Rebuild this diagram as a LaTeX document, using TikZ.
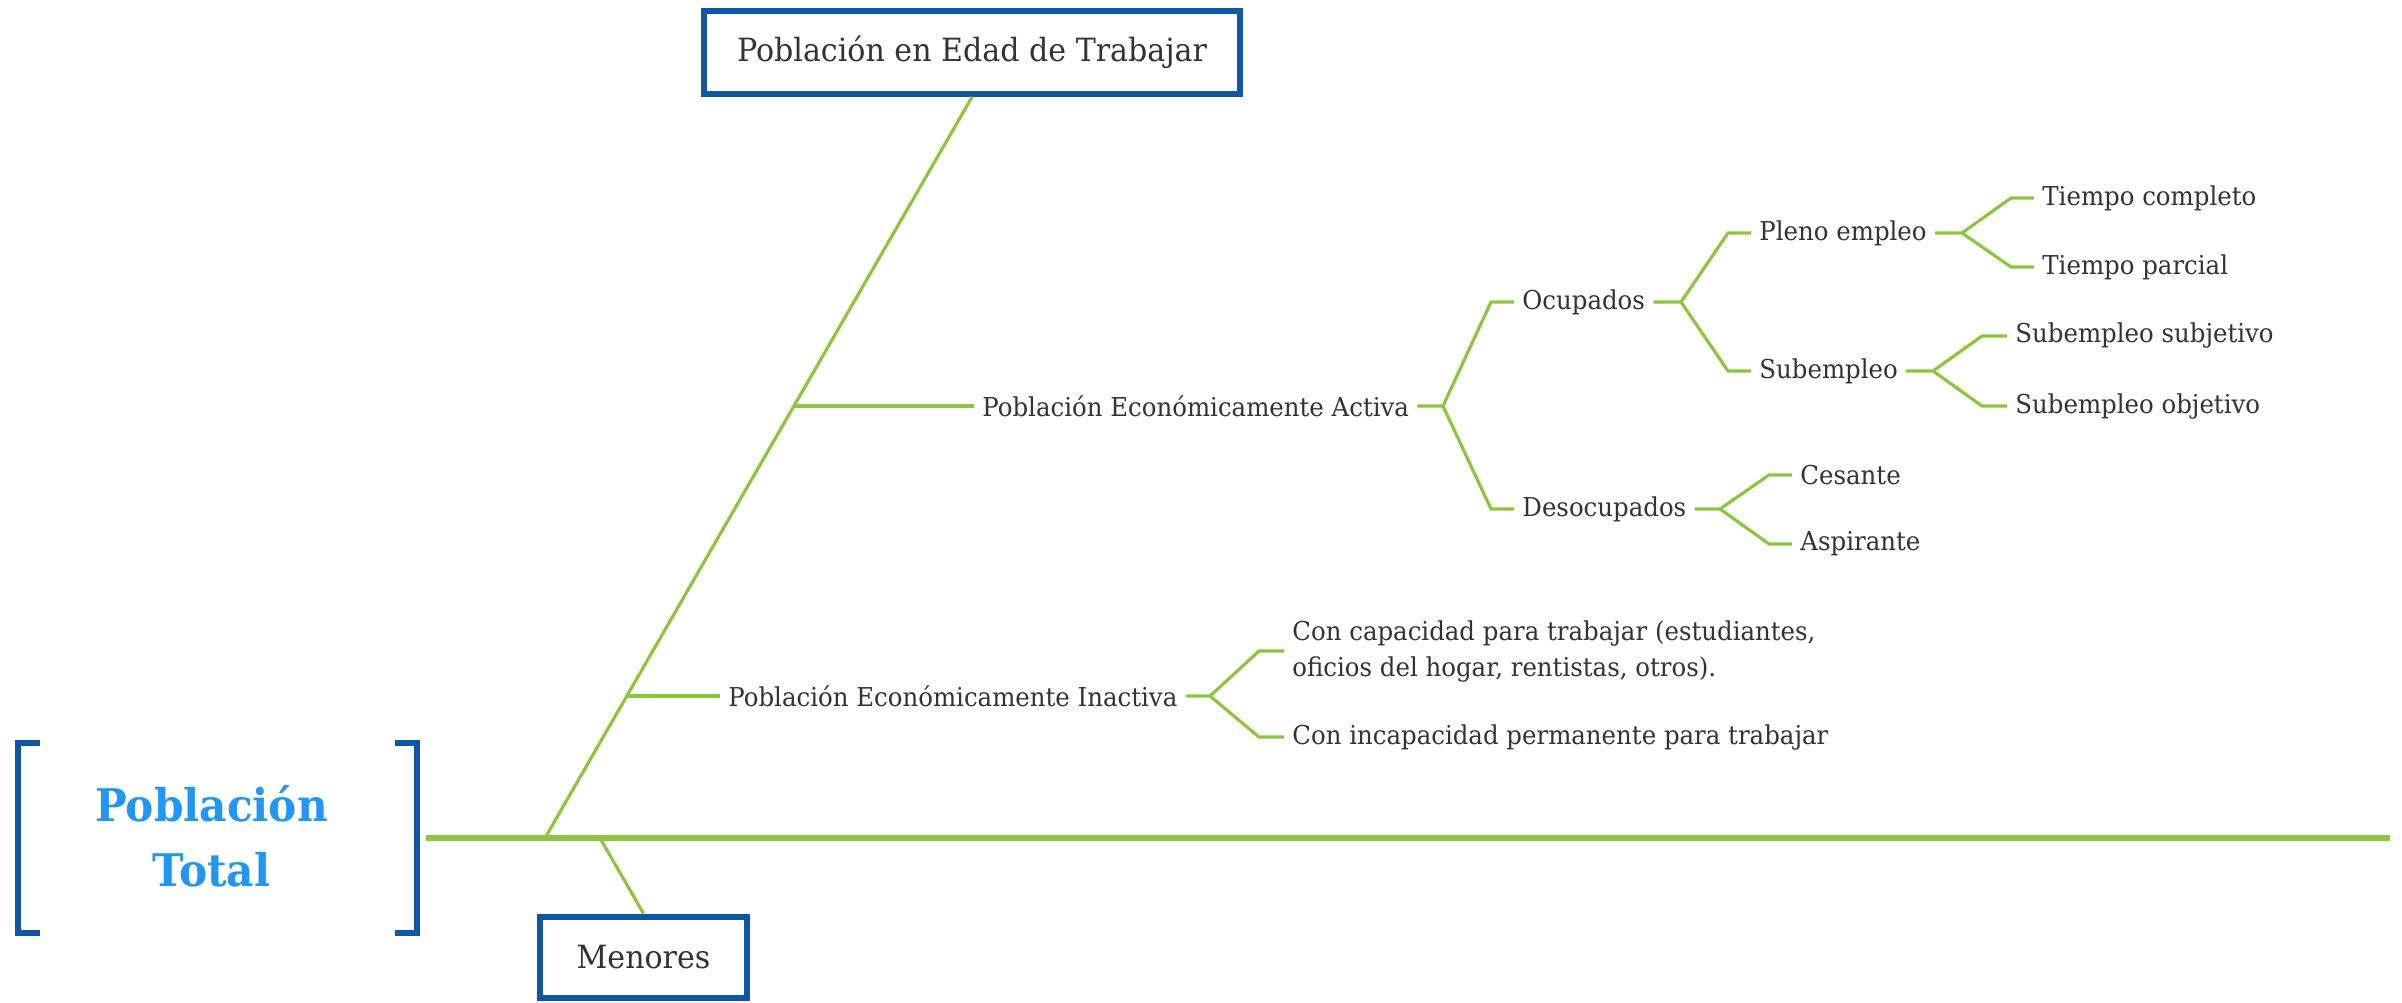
\documentclass[tikz,border=0pt]{standalone}
\usepackage{fontspec}
\setmainfont{DejaVu Serif}[FakeStretch=0.94]
\usetikzlibrary{positioning}
\definecolor{verde}{HTML}{8CC63F}
\definecolor{borde}{HTML}{0F57A5}
\definecolor{celeste}{HTML}{2196F3}

\begin{document}
\begin{tikzpicture}[x=0.5pt,y=-0.5pt,
	rama/.style={draw=verde, line width=1.6pt},
	eje/.style={draw=verde, line width=3pt},
	corchete/.style={draw=borde, line width=3pt},
	caja/.style={draw=borde, line width=3pt, minimum width=268pt, minimum height=41.5pt,
		text=black!80, font=\fontsize{16}{18}\selectfont},
	hoja/.style={anchor=west, inner xsep=4pt, inner ysep=1pt, text=black!80,
		align=left, font=\fontsize{13}{18}\selectfont},
	titulo/.style={align=center, text=celeste, font=\fontsize{22.5}{32.5}\selectfont\bfseries}]
	\useasboundingbox (0,0) rectangle (2402,1002);

	% titulo y corchetes
	\node[titulo] (pt) at (211.5,836) {Población\\Total};
	\draw[corchete] (40,743) -- (18,743) -- (18,933) -- (40,933);
	\draw[corchete] (395,743) -- (417,743) -- (417,933) -- (395,933);

	% eje principal
	\coordinate (e0) at (426,838);
	\coordinate (e1) at (2390,838);
	\coordinate (raiz) at (545,838);
	\coordinate (men0) at (600,838);
	\draw[eje] (e0) -- (e1);

	% cajas
	\node[caja] (pet) at (972,52.5) {Población en Edad de Trabajar};
	\node[caja, minimum width=103.5pt, minimum height=40.5pt] (men) at (643.5,957) {Menores};
	\draw[rama] (raiz) -- (pet.south);
	\draw[rama] (men0) -- (men.north);

	% ramas
	\coordinate (ja) at (795,406);
	\coordinate (ji) at (628,696);
	\node[hoja] (pea) at (974,406) {Población Económicamente Activa};
	\node[hoja] (pei) at (720,696) {Población Económicamente Inactiva};
	\node[hoja] (ocu) at (1514,302) {Ocupados};
	\node[hoja] (des) at (1514,509) {Desocupados};
	\node[hoja] (ple) at (1751,233) {Pleno empleo};
	\node[hoja] (sub) at (1751,371) {Subempleo};
	\node[hoja] (tco) at (2034,198) {Tiempo completo};
	\node[hoja] (tpa) at (2034,267) {Tiempo parcial};
	\node[hoja] (ssu) at (2007,336) {Subempleo subjetivo};
	\node[hoja] (sob) at (2007,406) {Subempleo objetivo};
	\node[hoja] (ces) at (1792,475) {Cesante};
	\node[hoja] (asp) at (1792,544) {Aspirante};
	\node[hoja] (cap) at (1284,651) {Con capacidad para trabajar (estudiantes,\\oficios del hogar, rentistas, otros).};
	\node[hoja] (inc) at (1284,737) {Con incapacidad permanente para trabajar};

	\coordinate (fa) at (1443,406);
	\coordinate (fo) at (1681,302);
	\coordinate (fp) at (1962,233);
	\coordinate (fs) at (1933,371);
	\coordinate (fd) at (1720,509);
	\coordinate (fi) at (1210,696);

	\draw[rama] (ja) -- (pea)
	            (ji) -- (pei);
	\draw[rama] (pea) -- (fa) -- ++(48,-104) -- (ocu)
	            (fa) -- ++(48,103) -- (des);
	\draw[rama] (ocu) -- (fo) -- ++(47,-69) -- (ple)
	            (fo) -- ++(47,69) -- (sub);
	\draw[rama] (ple) -- (fp) -- ++(49,-35) -- (tco)
	            (fp) -- ++(49,34) -- (tpa);
	\draw[rama] (sub) -- (fs) -- ++(49,-35) -- (ssu)
	            (fs) -- ++(49,35) -- (sob);
	\draw[rama] (des) -- (fd) -- ++(49,-34) -- (ces)
	            (fd) -- ++(49,35) -- (asp);
	\draw[rama] (pei) -- (fi) -- ++(49,-45) -- (cap)
	            (fi) -- ++(49,41) -- (inc);
\end{tikzpicture}
\end{document}
